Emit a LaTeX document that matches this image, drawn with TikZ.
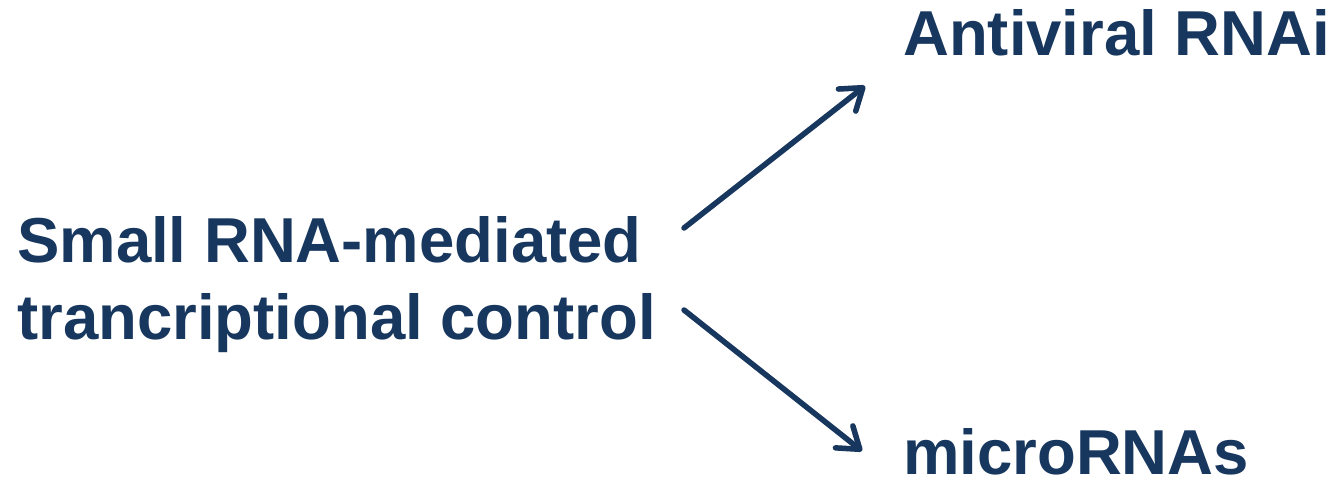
\documentclass[tikz,border=0pt]{standalone}
\usepackage{fontspec}
\setmainfont{Liberation Sans}
\usetikzlibrary{arrows.meta}
\definecolor{navy}{HTML}{17375E}
\begin{document}
\begin{tikzpicture}[x=1pt,y=-1pt,
  lbl/.style={text=navy,font=\fontsize{63.5}{75}\selectfont\bfseries,inner sep=0pt,anchor=base west},
  conn/.style={draw=navy,line width=5.5pt,line cap=round,-{Straight Barb[length=20pt,width=28pt,line cap=round,line join=round]}},
  shade/.style={conn,draw=black!12,shift={(2,3)}}]
\useasboundingbox (0,0) rectangle (1336,483);
\node[lbl] (s1) at (17,262) {Small RNA-mediated};
\node[lbl] (s2) at (17,339) {trancriptional control};
\node[lbl] (av) at (903,55) {Antiviral RNAi};
\node[lbl] (mi) at (903,474) {microRNAs};
\coordinate (a1) at (684,228);
\coordinate (b1) at (865,86);
\coordinate (a2) at (684,310);
\coordinate (b2) at (862,451);
\draw[shade] (a1) -- (b1);
\draw[shade] (a2) -- (b2);
\draw[conn] (a1) -- (b1);
\draw[conn] (a2) -- (b2);
\end{tikzpicture}
\end{document}
